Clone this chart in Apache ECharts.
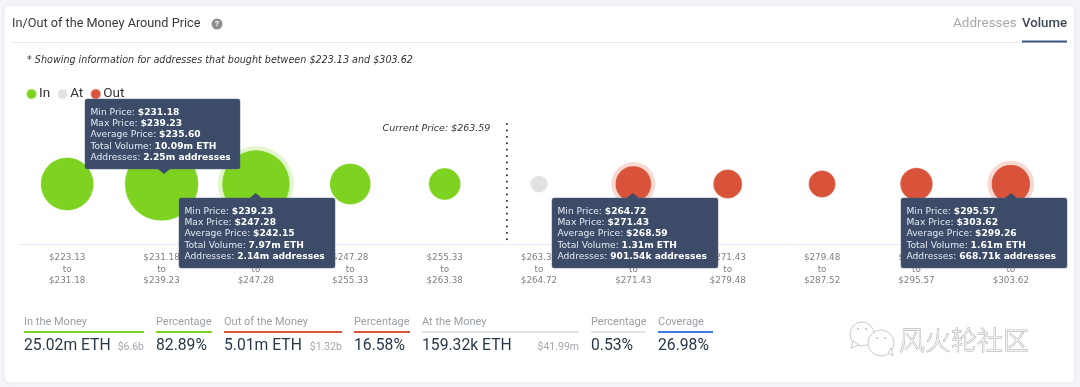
<!DOCTYPE html>
<html><head><meta charset="utf-8">
<style>html,body{margin:0;padding:0;background:#f3f5f8}#c{width:1080px;height:387px}</style>
<script src="https://cdn.jsdelivr.net/npm/echarts@6/dist/echarts.min.js"></script>
</head><body><div id="c"></div>
<script>
const lowerPrices=['$223.13','$231.18','$239.23','$247.28','$255.33','$263.38','$264.72','$271.43','$279.48','$287.52','$295.57'];
const upperPrices=['$231.18','$239.23','$247.28','$255.33','$263.38','$264.72','$271.43','$279.48','$287.52','$295.57','$303.62'];
const volumes=[3.94,10.09,7.97,1.89,0.93,0.159,1.31,0.70,0.57,0.98,1.61];
const statuses=['In','In','In','In','In','At','Out','Out','Out','Out','Out'];
const highlighted=[2,6,10];
const currentPricePos=4.66;
const currentPriceLabel='Current Price: $263.59';
const tipIndex=[1,2,6,10];
const tipMin=['$231.18','$239.23','$264.72','$295.57'];
const tipMax=['$239.23','$247.28','$271.43','$303.62'];
const tipAvg=['$235.60','$242.15','$268.59','$299.26'];
const tipVol=['10.09m ETH','7.97m ETH','1.31m ETH','1.61m ETH'];
const tipAddr=['2.25m addresses','2.14m addresses','901.54k addresses','668.71k addresses'];
const kpiLabels=['In the Money','Percentage','Out of the Money','Percentage','At the Money','Percentage','Coverage'];
const kpiValues=['25.02m ETH','82.89%','5.01m ETH','16.58%','159.32k ETH','0.53%','26.98%'];
const kpiUsd=['$6.6b','','$1.32b','','$41.99m','',''];

const GREEN='#7ed321',RED='#d9533a',GREY='#e2e2e2',BLUE='#3f7be0';
const colors={In:GREEN,At:GREY,Out:RED};
const kpiX=[[24,144,GREEN],[156,212,GREEN],[224,342,RED],[354,410,RED],[422,579,'#e4e4e4'],[591,646,'#e4e4e4'],[658,713,BLUE]];
const tipLayout=[
 {box:[85,99,155,70],tip:[164,174],up:true},
 {box:[179,198,156,70],tip:[255.7,193]},
 {box:[552,198,166,70],tip:[632.7,193]},
 {box:[901,198,166,70],tip:[1011,193]}
];
const UI='Roboto, "Noto Sans", sans-serif';
const MONO='"DejaVu Sans", sans-serif';
const size=v=>2*16.4*Math.pow(v,0.35);
const pts=s=>volumes.map((v,i)=>statuses[i]===s?[i,0,v]:null).filter(Boolean);

const g=[];
g.push({type:'rect',z:-5,shape:{x:4,y:5,width:1071,height:378,r:5},style:{fill:'#fff',stroke:'#e9ecf1',lineWidth:1,shadowBlur:3,shadowColor:'rgba(0,0,0,0.06)'}});
const txt=(text,x,y,font,fill,extra)=>g.push({type:'text',style:Object.assign({text,x,y,font,fill,textVerticalAlign:'middle'},extra||{})});
txt('In/Out of the Money Around Price',12,24,'12.7px '+UI,'#3a3a3a');
g.push({type:'circle',shape:{cx:217,cy:24,r:5.5},style:{fill:'#8f8f8f'}});
txt('?',217,24,'bold 8px '+UI,'#fff',{textAlign:'center'});
g.push({type:'line',shape:{x1:12,y1:42.5,x2:1066,y2:42.5},style:{stroke:'#e8ecef',lineWidth:1}});
txt('Addresses',953,24,'13.5px '+UI,'#a9a9a9');
txt('Volume',1022,24,'500 13.2px '+UI,'#3c4757');
g.push({type:'rect',shape:{x:1022,y:40.5,width:45,height:2},style:{fill:'#3f5585'}});
txt('* Showing information for addresses that bought between $223.13 and $303.62',27,60,'italic 9.6px '+MONO,'#333');
kpiLabels.forEach((l,i)=>{
  const [a,b,c]=kpiX[i];
  txt(l,a,322,'11px '+UI,'#9a9fa6');
  g.push({type:'rect',shape:{x:a,y:331,width:b-a,height:2},style:{fill:c}});
  txt(kpiValues[i],a,346,'15.7px '+UI,'#26384a');
  if(kpiUsd[i])txt(kpiUsd[i],b,347,'10.5px '+UI,'#a3a8ae',{textAlign:'right'});
});
// watermark
const wm={stroke:'#c9c9c9',fill:'#fff',lineWidth:1};
g.push({type:'circle',shape:{cx:862,cy:334,r:12},style:wm});
g.push({type:'polygon',shape:{points:[[853,341],[851,348],[859,345]]},style:wm});
g.push({type:'circle',shape:{cx:881,cy:343,r:13},style:wm});
g.push({type:'polygon',shape:{points:[[888,353],[893,356],[891,348]]},style:wm});
[[858,329],[866,329],[877,338],[885,338]].forEach(p=>g.push({type:'circle',shape:{cx:p[0],cy:p[1],r:1},style:{fill:'#bdbdbd'}}));
txt('风火轮社区',899,340,'200 26px "Noto Sans CJK SC"','#f4f4f4',{stroke:'#9c9c9c',lineWidth:0.8});

const tipRich={a:{fill:'#e4e9f2',color:'#e4e9f2',font:'9.15px '+MONO,lineHeight:11.3},b:{fill:'#fff',color:'#fff',font:'bold 9.15px '+MONO,lineHeight:11.3}};

const bubble=(name,color)=>({type:'scatter',name,data:pts(name),symbolSize:v=>size(v[2]),
  itemStyle:{color,opacity:1,borderColor:'rgba(255,255,255,0.6)',borderWidth:0.5},silent:true,z:3});

const option={
 animation:false,
 graphic:{elements:g},
 grid:{left:20,right:22,top:124,bottom:143,containLabel:false},
 legend:{left:20,top:82,itemWidth:11,itemHeight:11,itemGap:6,icon:'circle',selectedMode:false,
   data:['In','At','Out'],textStyle:{fontFamily:UI,fontSize:13.5,color:'#333',padding:[0,0,0,-3]}},
 xAxis:[{type:'category',data:lowerPrices,axisTick:{show:false},
   axisLine:{onZero:false,lineStyle:{color:'#e3e9f5',width:1}},
   axisLabel:{interval:0,margin:8,fontFamily:MONO,fontSize:8.8,lineHeight:11.5,color:'#808080',
     formatter:(v,i)=>lowerPrices[i]+'\nto\n'+upperPrices[i]}},
   {type:'value',min:-0.5,max:10.5,show:false}],
 yAxis:{type:'value',min:-1,max:1,show:false},
 series:[
  {type:'scatter',name:'halo',data:highlighted.map(i=>[i,0,volumes[i]]),
   symbolSize:v=>size(v[2])+8,silent:true,z:2,
   itemStyle:{opacity:0.22,color:p=>colors[statuses[p.data[0]]]}},
  bubble('In',GREEN),bubble('At',GREY),bubble('Out',RED),
  {type:'line',name:'Current Price',xAxisIndex:1,data:[[currentPricePos,1],[currentPricePos,-1]],
   symbol:'none',silent:true,z:3,
   lineStyle:{color:'#111',width:1.8,type:[0.1,6.3],cap:'round'}},
  {type:'scatter',name:'Current Price Label',xAxisIndex:1,data:[[currentPricePos,1]],symbolSize:1,silent:true,z:3,
   itemStyle:{color:'rgba(0,0,0,0)'},
   label:{show:true,formatter:currentPriceLabel,position:'left',distance:16,offset:[0,5],
     fontFamily:MONO,fontStyle:'italic',fontSize:9.5,color:'#333',opacity:1}},
  {type:'custom',name:'tooltips',coordinateSystem:'cartesian2d',z:10,silent:true,clip:false,
   data:tipIndex.map((idx,k)=>[idx,0,k]),
   renderItem:(params,api)=>{
     const k=api.value(2),L=tipLayout[k];
     const [bx,by,bw,bh]=L.box;
     const tipX=L.tip[0],tipY=L.tip[1];
     const baseY=L.up?by+bh:by;
     const lines=[['Min Price: ',tipMin[k]],['Max Price: ',tipMax[k]],['Average Price: ',tipAvg[k]],['Total Volume: ',tipVol[k]],['Addresses: ',tipAddr[k]]];
     return {type:'group',children:[
       {type:'rect',shape:{x:bx,y:by,width:bw,height:bh,r:2},style:{fill:'#3b4b68',stroke:'#55647f',lineWidth:0.5}},
       {type:'polygon',shape:{points:[[tipX-6,baseY],[tipX+6,baseY],[tipX,tipY]]},style:{fill:'#3b4b68'}},
       {type:'text',style:{x:bx+5.5,y:by+7.6,text:lines.map(l=>'{a|'+l[0]+'}{b|'+l[1]+'}').join('\n'),rich:tipRich,verticalAlign:'top',textVerticalAlign:'top'}}
     ]};
   }}
 ]
};
echarts.init(document.getElementById('c')).setOption(option);
</script></body></html>
